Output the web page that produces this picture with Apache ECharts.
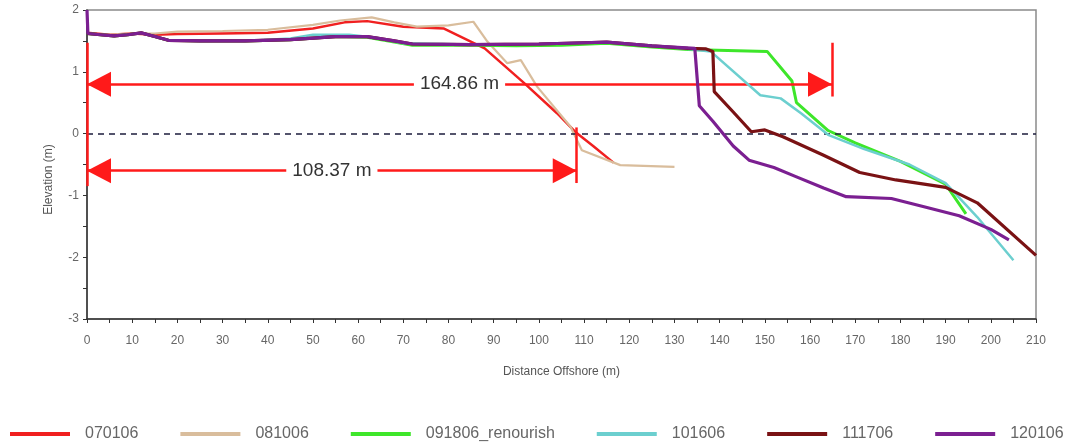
<!DOCTYPE html>
<html>
<head>
<meta charset="utf-8">
<script src="https://cdn.jsdelivr.net/npm/echarts@6/dist/echarts.min.js"></script>
<style>
  html, body { margin: 0; padding: 0; background: #fff; }
  #chart { width: 1069px; height: 447px; }
</style>
</head>
<body>
<div id="chart"></div>
<script>
// Beach profile surveys: [distance offshore (m), elevation (m)]
const surveyNames = ['070106', '081006', '091806_renourish', '101606', '111706', '120106'];

const profile070106 = [
  [0, 1.63], [5, 1.6], [10, 1.62], [15, 1.6], [20, 1.61], [30, 1.62], [40, 1.63],
  [50, 1.7], [57, 1.8], [62, 1.82], [70, 1.73], [79, 1.7], [88, 1.38], [97, 0.8],
  [104, 0.33], [108, 0.03], [112, -0.2], [116.5, -0.47]
];
const profile081006 = [
  [0, 1.62], [5, 1.6], [10, 1.62], [15, 1.62], [20, 1.65], [30, 1.66], [40, 1.68],
  [50, 1.76], [56, 1.83], [63, 1.88], [68, 1.8], [73, 1.73], [80, 1.75], [85.5, 1.81],
  [88.6, 1.49], [93, 1.14], [96, 1.19], [99.6, 0.76], [107, 0.11], [109.5, -0.27],
  [118, -0.51], [130, -0.54]
];
const profile091806 = [
  [0, 1.62], [3, 1.6], [6, 1.58], [9, 1.6], [12, 1.63], [15, 1.57], [18, 1.51],
  [25, 1.5], [35, 1.5], [45, 1.52], [55, 1.57], [62, 1.56], [68, 1.48], [72, 1.43],
  [85, 1.43], [95, 1.42], [105, 1.43], [115, 1.46], [125, 1.4], [133, 1.36],
  [150.5, 1.33], [156, 0.85], [157, 0.5], [164, 0.05], [170, -0.15], [180, -0.45],
  [190, -0.82], [194.5, -1.3]
];
const profile101606 = [
  [0, 1.62], [3, 1.6], [6, 1.58], [9, 1.6], [12, 1.63], [15, 1.57], [18, 1.51],
  [25, 1.5], [35, 1.5], [45, 1.54], [50, 1.6], [58, 1.6], [64, 1.55], [70, 1.46],
  [85, 1.44], [100, 1.45], [110, 1.47], [115, 1.48], [125, 1.42], [133, 1.37],
  [138, 1.33], [149, 0.62], [153.5, 0.57], [158, 0.33], [164, -0.02], [172, -0.25],
  [182, -0.5], [190, -0.8], [197, -1.35], [205, -2.05]
];
const profile111706 = [
  [0, 1.62], [3, 1.6], [6, 1.58], [9, 1.6], [12, 1.63], [15, 1.57], [18, 1.51],
  [25, 1.5], [35, 1.5], [45, 1.52], [55, 1.57], [62, 1.57], [68, 1.5], [72, 1.45],
  [85, 1.44], [100, 1.45], [110, 1.47], [115, 1.48], [125, 1.42], [133, 1.38],
  [137, 1.37], [138.5, 1.33], [138.8, 0.68], [143, 0.35], [147, 0.03], [150, 0.06],
  [154, -0.05], [163, -0.35], [171, -0.63], [179, -0.75], [190, -0.87], [197, -1.12],
  [210, -1.97]
];
const profile120106 = [
  [0, 2.0], [0.2, 1.62], [3, 1.6], [6, 1.58], [9, 1.6], [12, 1.63], [15, 1.57],
  [18, 1.51], [25, 1.5], [35, 1.5], [45, 1.52], [55, 1.57], [62, 1.57], [68, 1.5],
  [72, 1.45], [85, 1.44], [100, 1.45], [110, 1.47], [115, 1.48], [125, 1.42],
  [134.5, 1.38], [135.5, 0.45], [138.5, 0.2], [143, -0.2], [146.5, -0.43], [152, -0.55],
  [157, -0.7], [163, -0.88], [168, -1.02], [178, -1.05], [185, -1.18], [193, -1.33],
  [200, -1.55], [204, -1.72]
];

// Shoreline distances measured to the 0 m contour
const shorelineFar = 164.86;
const shorelineNear = 108.37;
const arrowLevelFar = 0.8;
const arrowLevelNear = -0.6;

const profiles = [profile070106, profile081006, profile091806, profile101606, profile111706, profile120106];
const colors = ['#f02020', '#d9bd9c', '#3ee62a', '#6ccfcf', '#7a1214', '#7b1f91'];
const widths = [2.5, 2.2, 3, 2.5, 3.2, 3.2];

const font = 'Liberation Sans, Arial, sans-serif';
const red = '#ff1a1a';

const series = profiles.map((data, i) => ({
  name: surveyNames[i],
  type: 'line',
  data: data,
  showSymbol: false,
  symbol: 'none',
  lineStyle: { color: colors[i], width: widths[i] },
  itemStyle: { color: colors[i] },
  z: 2 + i,
  animation: false
}));

// Zero-elevation reference line
series.push({
  type: 'line',
  data: [],
  silent: true,
  markLine: {
    symbol: ['none', 'none'],
    silent: true,
    animation: false,
    label: { show: false },
    lineStyle: { color: '#1c1c3c', width: 1.5, type: [6, 5] },
    data: [{ yAxis: 0 }]
  },
  z: 1
});

// Distance annotation shafts and end bars
const seg = (x0, y0, x1, y1, text) => [
  { coord: [x0, y0], label: text ? { show: true, formatter: text } : { show: false } },
  { coord: [x1, y1] }
];
series.push({
  type: 'line',
  data: [],
  silent: true,
  z: 20,
  markLine: {
    silent: true,
    animation: false,
    symbol: ['none', 'none'],
    lineStyle: { color: red, width: 2.5, type: 'solid' },
    label: {
      show: true,
      position: 'insideMiddle',
      color: '#333',
      fontFamily: font,
      fontSize: 19,
      backgroundColor: '#fff',
      padding: [1, 6]
    },
    data: [
      seg(0, arrowLevelFar, shorelineFar, arrowLevelFar, shorelineFar.toFixed(2) + ' m'),
      seg(0, arrowLevelNear, shorelineNear, arrowLevelNear, shorelineNear.toFixed(2) + ' m'),
      seg(0, 1.47, 0, -0.85),
      seg(shorelineFar, 1.47, shorelineFar, 0.6),
      seg(shorelineNear, 0.1, shorelineNear, -0.8)
    ]
  }
});

// Arrowheads: tips sit exactly on the measured endpoints
const headLen = 24;
const head = (x, y, dir) => ({
  value: [x, y],
  symbolRotate: dir < 0 ? 90 : -90,
  symbolOffset: [dir < 0 ? headLen / 2 : -headLen / 2, 0]
});
series.push({
  type: 'scatter',
  silent: true,
  z: 21,
  symbol: 'triangle',
  symbolSize: [25, headLen],
  itemStyle: { color: red, opacity: 1 },
  data: [
    head(0, arrowLevelFar, -1),
    head(shorelineFar, arrowLevelFar, 1),
    head(0, arrowLevelNear, -1),
    head(shorelineNear, arrowLevelNear, 1)
  ],
  animation: false
});

const chart = echarts.init(document.getElementById('chart'), null, { renderer: 'canvas' });
chart.setOption({
  animation: false,
  backgroundColor: '#fff',
  grid: {
    left: 87, right: 33, top: 10, bottom: 128,
    show: true, borderColor: '#8a8a8a', borderWidth: 1.5, backgroundColor: '#fff'
  },
  legend: {
    data: surveyNames,
    left: 5,
    top: 421,
    itemWidth: 60,
    itemHeight: 4,
    itemGap: 42,
    icon: 'rect',
    textStyle: { fontFamily: font, fontSize: 16, color: '#666', padding: [0, 0, 0, 10] }
  },
  xAxis: {
    type: 'value',
    min: 0, max: 210, interval: 10,
    name: 'Distance Offshore (m)',
    nameLocation: 'middle',
    nameGap: 47,
    nameTextStyle: { fontFamily: font, fontSize: 12, color: '#555' },
    axisLine: { show: true, onZero: false, lineStyle: { color: '#333', width: 1.5 } },
    axisTick: { show: true, length: 4, lineStyle: { color: '#333' } },
    minorTick: { show: true, splitNumber: 2, length: 4, lineStyle: { color: '#333' } },
    splitLine: { show: false },
    axisLabel: { fontFamily: font, fontSize: 12, color: '#666', margin: 16 }
  },
  yAxis: {
    type: 'value',
    min: -3, max: 2, interval: 1,
    name: 'Elevation (m)',
    nameLocation: 'middle',
    nameGap: 32,
    nameTextStyle: { fontFamily: font, fontSize: 12, color: '#555', padding: [0, 30, 0, 0] },
    axisLine: { show: true, onZero: false, lineStyle: { color: '#333', width: 1.5 } },
    axisTick: { show: true, length: 4, lineStyle: { color: '#333' } },
    minorTick: { show: true, splitNumber: 2, length: 4, lineStyle: { color: '#333' } },
    splitLine: { show: false },
    axisLabel: { fontFamily: font, fontSize: 12, color: '#666', margin: 8 }
  },
  series: series
});
</script>
</body>
</html>
